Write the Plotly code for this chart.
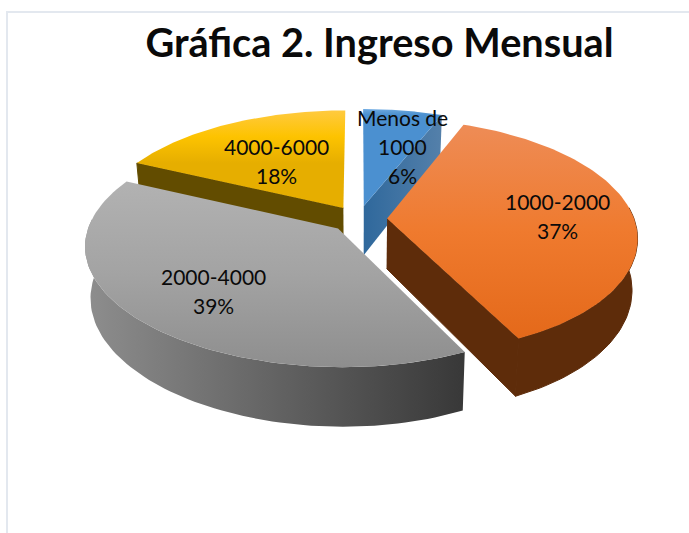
"""Gráfica 2 - exploded 3D-look pie, drawn as filled scatter polygons."""
import numpy as np
import plotly.graph_objects as go

# --- data ---
CATEGORIES = ["Menos de 1000", "1000-2000", "2000-4000", "4000-6000"]
PERCENTS = [6, 37, 39, 18]
LABEL_LINES = [["Menos de", "1000"], ["1000-2000"], ["2000-4000"], ["4000-6000"]]
TITLE = "Gráfica 2. Ingreso Mensual"

# --- styling per slice ---
TOP_COLORS = [
    ("#70ace4", "#5b9bd5", "#4b90d0"),
    ("#ee8c56", "#ef7a2e", "#e4691a"),
    ("#b2b2b2", "#a3a3a3", "#8e8e8e"),
    ("#ffca40", "#fdc300", "#e6ae00"),
]
WALL_COLORS = [
    ("#2f689c", "#5480aa"),
    ("#5e2c0a", "#5e2c0a"),
    ("#8e8e8e", "#383838"),
    ("#624c00", "#624c00"),
]
LABEL_POS = [(402, 117), (557, 201), (213, 276), (276, 146)]
PAINT_ORDER = [3, 0, 1, 2]

# --- projection (pixels) ---
W, H = 689, 533
CX, CY = 358.5, 219
RX, RY = 247, 115
PERSP = 0.148
EXPLODE = 0.116
DEPTH = 50
TAPER = 0.02  # the underside sits further from the camera
SKEW = 7      # front of the pie leans a little to the right in the original
FONT = "Lato, Carlito, 'Open Sans', sans-serif"


def project(wx, wy, drop=0.0):
    s = 1.0 / (1.0 + PERSP * wy)
    taper = 1.0 - TAPER * drop / DEPTH
    lean = SKEW * np.minimum(wy, 0.0) ** 2
    return CX + RX * wx * s * taper + lean, CY - RY * wy * s + drop * s


def gradient(kind, colors, start=None, stop=None):
    stops = np.linspace(0, 1, len(colors))
    g = dict(type=kind, colorscale=[[float(t), c] for t, c in zip(stops, colors)])
    if start is not None:
        g.update(start=start, stop=stop)
    return g


fig = go.Figure()
edges = 2 * np.pi * np.cumsum([0] + PERCENTS) / sum(PERCENTS)

for i in PAINT_ORDER:
    start, stop = edges[i], edges[i + 1]
    mid = (start + stop) / 2
    ax, ay = EXPLODE * np.sin(mid), EXPLODE * np.cos(mid)
    theta = np.linspace(start, stop, 90)
    rx, ry = ax + np.sin(theta), ay + np.cos(theta)

    ox, oy = project(rx, ry)
    ux, uy = project(rx, ry, DEPTH)
    px, py = project(ax, ay)
    qx, qy = project(ax, ay, DEPTH)

    # only the walls that face the viewer
    walls = []
    front = np.cos(theta) < 0.1
    if front.any():
        walls.append((np.r_[ox[front], ux[front][::-1]], np.r_[oy[front], uy[front][::-1]]))
    if np.sin(start) < 0:
        walls.append(([px, ox[0], ux[0], qx], [py, oy[0], uy[0], qy]))
    if np.sin(stop) > 0:
        walls.append(([px, ox[-1], ux[-1], qx], [py, oy[-1], uy[-1], qy]))

    wall = WALL_COLORS[i]
    wall_grad = gradient("horizontal", wall[::-1], ox.max(), ox.min())
    for xs, ys in walls:
        # a hairline in the wall colour hides the seam between wall pieces
        fig.add_trace(go.Scatter(
            x=xs, y=ys, mode="lines", fill="toself",
            line=dict(width=1 if wall[0] == wall[1] else 0, color=wall[0]),
            hoverinfo="skip", showlegend=False, fillgradient=wall_grad,
        ))

    top = TOP_COLORS[i]
    fig.add_trace(go.Scatter(
        x=np.r_[px, ox], y=np.r_[py, oy], mode="lines", fill="toself",
        line=dict(width=0), hoverinfo="skip", showlegend=False,
        fillgradient=gradient("vertical", top, oy.min(), oy.max()),
    ))

# labels: one annotation per line, the spacing is wider than plotly's own
annotations = []
for i, lines in enumerate(LABEL_LINES):
    lx, ly = LABEL_POS[i]
    for n, text in enumerate(lines + [f"{PERCENTS[i]}%"]):
        annotations.append(dict(
            x=lx, y=ly + n * 29, text=text, showarrow=False,
            xanchor="center", yanchor="middle",
            font=dict(family=FONT, size=21, color="#0a0a0a"),
        ))

fig.update_layout(
    width=W, height=H,
    margin=dict(l=0, r=0, t=0, b=0),
    paper_bgcolor="white", plot_bgcolor="white",
    showlegend=False,
    title=dict(
        text=f"<b>{TITLE}</b>",
        x=379.5 / W, xanchor="center", y=1 - 43 / H, yanchor="middle",
        font=dict(family=FONT, size=39.7, color="#0a0a0a"),
    ),
    xaxis=dict(range=[0, W], visible=False, fixedrange=True),
    yaxis=dict(range=[H, 0], visible=False, fixedrange=True),
    shapes=[dict(type="rect", x0=7, y0=12, x1=W + 10, y1=H + 10,
                 line=dict(color="#e3e8ef", width=2), layer="below")],
    annotations=annotations,
)

# the page's default body margin would push the figure 8px in
fig.write_html("out.html", config=dict(displayModeBar=False),
               post_script="document.body.style.margin='0';document.body.style.overflow='hidden';")
